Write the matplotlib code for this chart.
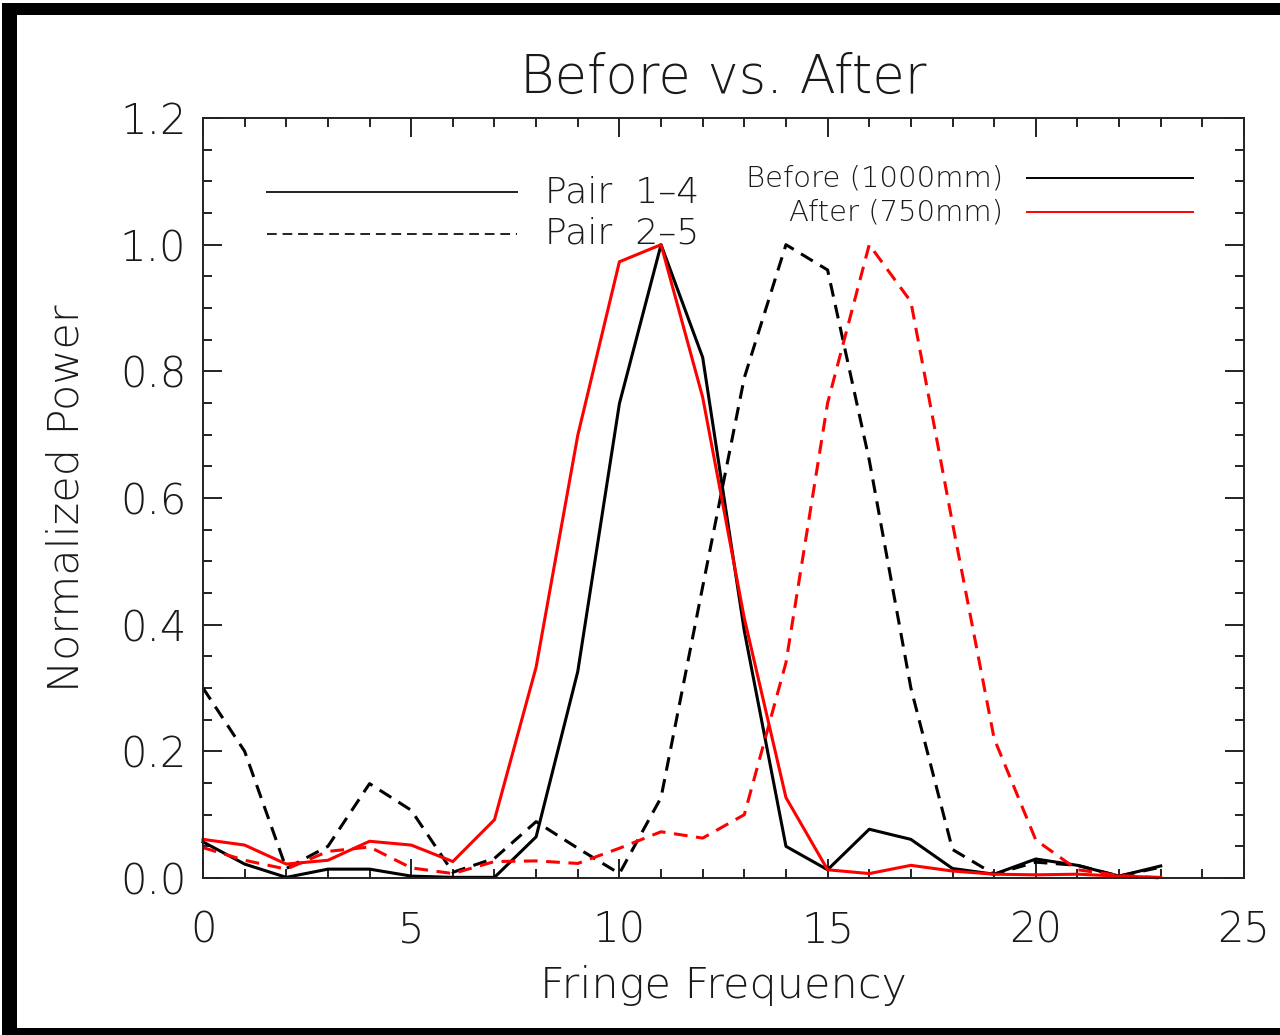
import matplotlib
matplotlib.use('Agg')
import matplotlib.pyplot as plt
from matplotlib.patches import Rectangle
from matplotlib.ticker import MultipleLocator

# Normalized fringe power
freq = list(range(24))
before_14 = [0.057, 0.022, 0.001, 0.014, 0.014, 0.003, 0.001, 0.001, 0.065, 0.326,
             0.749, 1.0, 0.822, 0.39, 0.05, 0.013, 0.077, 0.061, 0.015, 0.006,
             0.030, 0.020, 0.003, 0.019]
after_14 = [0.061, 0.052, 0.022, 0.028, 0.058, 0.052, 0.026, 0.092, 0.333, 0.699,
            0.973, 1.0, 0.759, 0.41, 0.127, 0.013, 0.007, 0.020, 0.011, 0.006,
            0.005, 0.006, 0.003, 0.001]
before_25 = [0.30, 0.20, 0.015, 0.05, 0.149, 0.107, 0.009, 0.031, 0.089, 0.047,
             0.007, 0.127, 0.46, 0.79, 1.0, 0.96, 0.66, 0.30, 0.045, 0.006,
             0.025, 0.020, 0.003, 0.017]
after_25 = [0.048, 0.028, 0.014, 0.042, 0.049, 0.016, 0.007, 0.026, 0.027, 0.023,
            0.047, 0.073, 0.063, 0.10, 0.34, 0.75, 1.0, 0.91, 0.56, 0.22,
            0.06, 0.013, 0.004, 0.0]

plt.rcParams['font.family'] = ['DejaVu Sans']
plt.rcParams['font.weight'] = 'light'
plt.rcParams['axes.titleweight'] = 'light'
plt.rcParams['axes.labelweight'] = 'light'
txt = '#1a1a1a'

fig = plt.figure(figsize=(12.8, 10.35), dpi=100)
ax = fig.add_axes([203/1280, 1 - 878/1035, 1041/1280, 760/1035])

dash = (0, (4.5, 2.8))
lw = 2.2
ax.plot(freq, before_14, color='black', lw=lw, clip_on=False)
ax.plot(freq, before_25, color='black', lw=lw, ls=dash, clip_on=False)
ax.plot(freq, after_14, color='red', lw=lw, clip_on=False)
ax.plot(freq, after_25, color='red', lw=lw, ls=dash, clip_on=False)

ax.set_xlim(0, 25)
ax.set_ylim(0, 1.2)
ax.xaxis.set_major_locator(MultipleLocator(5))
ax.xaxis.set_minor_locator(MultipleLocator(1))
ax.yaxis.set_major_locator(MultipleLocator(0.2))
ax.yaxis.set_minor_locator(MultipleLocator(0.05))
ax.set_yticklabels(['%.1f' % v for v in ax.get_yticks()])
ax.tick_params(which='both', direction='in', top=True, right=True,
               width=1.4, color='#222222')
ax.tick_params(which='major', length=14)
ax.tick_params(which='minor', length=6.5)
ax.tick_params(axis='x', labelsize=30, pad=23, labelcolor=txt)
ax.tick_params(axis='y', labelsize=30, pad=12, labelcolor=txt)
for s in ax.spines.values():
  s.set_linewidth(1.4)
  s.set_color('#222222')

ax.set_title('Before vs. After', fontsize=38, pad=18, color=txt)
ax.set_xlabel('Fringe Frequency', fontsize=31, labelpad=10, color=txt)
ax.set_ylabel('Normalized Power', fontsize=31, labelpad=24, color=txt)

# line style key
tr = ax.transAxes
ax.plot([0.0615, 0.3016], [0.9026, 0.9026], color='#222222', lw=1.4, transform=tr)
ax.plot([0.0615, 0.3016], [0.8474, 0.8474], color='#222222', lw=1.4,
        ls=(0, (5, 3)), transform=tr)
ax.text(0.3285, 0.9026, 'Pair  1\u20134', fontsize=26, va='center', ha='left',
        transform=tr, color=txt)
ax.text(0.3285, 0.8474, 'Pair  2\u20135', fontsize=26, va='center', ha='left',
        transform=tr, color=txt)

# colour key
ax.plot([0.7915, 0.951], [0.921, 0.921], color='black', lw=1.4, transform=tr)
ax.plot([0.7915, 0.951], [0.876, 0.876], color='red', lw=1.4, transform=tr)
ax.text(0.7685, 0.921, 'Before (1000mm)', fontsize=21, va='center', ha='right',
        transform=tr, color=txt)
ax.text(0.7685, 0.876, 'After (750mm)', fontsize=21, va='center', ha='right',
        transform=tr, color=txt)

# black frame round the picture (left, top, bottom)
W, H = 1280.0, 1035.0
for x0, y0, w, h in [(2, 0, 15, 1032), (2, 1020, 1278, 12), (2, 0, 1278, 7)]:
  fig.patches.append(Rectangle((x0/W, y0/H), w/W, h/H, transform=fig.transFigure,
                               facecolor='black', edgecolor='none'))

fig.savefig('out.png', dpi=100)
